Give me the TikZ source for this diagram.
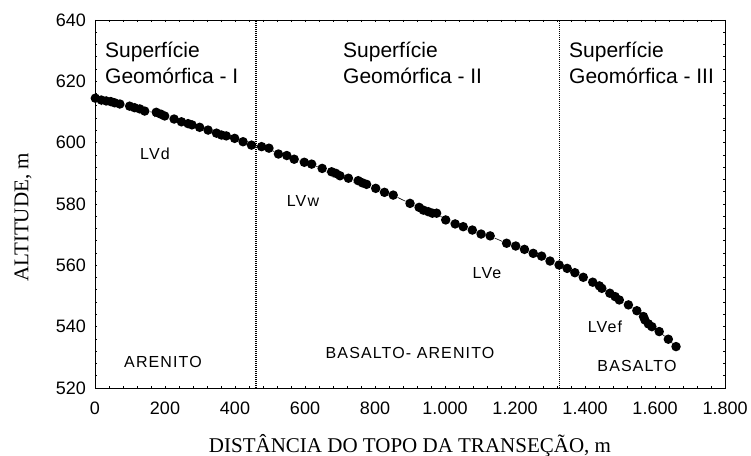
\documentclass[tikz,border=0pt]{standalone}
\usepackage{fontspec}
\setmainfont{Liberation Sans}
\newfontfamily\axisfont{Liberation Serif}
\newfontfamily\soilfont[LetterSpace=7]{Liberation Sans}
\usepackage{tikz}

\begin{document}
\begin{tikzpicture}[x=1pt,y=-1pt,
        frame/.style={draw=black,line width=0.9pt},
        divider/.style={draw=black,line width=1.1pt,dash pattern=on 1pt off 1pt},
        ticklabel/.style={inner sep=0pt,font=\fontsize{18}{18}\selectfont},
        surface/.style={inner sep=0pt,anchor=base west,font=\fontsize{21}{21}\selectfont},
        soil/.style={inner sep=0pt,anchor=base,font=\soilfont\fontsize{16}{16}\selectfont},
        axistitle/.style={inner sep=0pt,anchor=base,font=\axisfont\fontsize{21}{21}\selectfont}]
    \useasboundingbox (0,0) rectangle (751,455);

    % data frame: distance (m) against altitude (m)
    \begin{scope}[shift={(95,1982.67)},xscale=0.35,yscale=-3.0667]
        \coordinate (ll) at (0,520);
        \coordinate (ur) at (1800,640);
        \coordinate (g1b) at (460,520);
        \coordinate (g1t) at (460,640);
        \coordinate (g2b) at (1327,520);
        \coordinate (g2t) at (1327,640);

        \path[divider] (g1b) -- (g1t);
        \path[divider] (g2b) -- (g2t);
        \path[frame] (ll) rectangle (ur);

        \foreach \d in {0,40,...,1800} {
            \draw[line width=0.8pt] (\d,520) -- (\d,520.65);
            \draw[line width=0.8pt] (\d,640) -- (\d,639.35);
        }
        \foreach \a in {520,524,...,640} {
            \draw[line width=0.8pt] (0,\a) -- (5.7,\a);
            \draw[line width=0.8pt] (1800,\a) -- (1794.3,\a);
        }
        \foreach \d/\t in {0/0,200/200,400/400,600/600,800/800,1000/1.000,1200/1.200,1400/1.400,1600/1.600,1800/1.800}
            \node[ticklabel,anchor=north] (xl\d) at (\d,515.43) {\t};
        \foreach \a in {520,540,...,640}
            \node[ticklabel,anchor=east] (yl\a) at (-25.7,\a) {\a};

        \begin{scope}[every node/.style={fill=black,circle,inner sep=0pt,minimum size=9.5pt}]
            \node (p1) at (1,614.5) {};
            \node (p2) at (18,613.9) {};
            \node (p3) at (32,613.6) {};
            \node (p4) at (45,613.4) {};
            \node (p5) at (56,613.0) {};
            \node (p6) at (71,612.6) {};
            \node (p7) at (99,611.9) {};
            \node (p8) at (113,611.4) {};
            \node (p9) at (128,611.0) {};
            \node (p10) at (142,610.3) {};
            \node (p11) at (175,609.9) {};
            \node (p12) at (188,609.3) {};
            \node (p13) at (199,608.7) {};
            \node (p14) at (226,607.7) {};
            \node (p15) at (247,606.8) {};
            \node (p16) at (266,606.2) {};
            \node (p17) at (277,605.8) {};
            \node (p18) at (299,605.0) {};
            \node (p19) at (323,604.1) {};
            \node (p20) at (347,603.1) {};
            \node (p21) at (361,602.5) {};
            \node (p22) at (375,602.2) {};
            \node (p23) at (399,601.4) {};
            \node (p24) at (423,600.3) {};
            \node (p25) at (447,599.2) {};
            \node (p26) at (476,598.7) {};
            \node (p27) at (497,598.2) {};
            \node (p28) at (524,596.3) {};
            \node (p29) at (548,595.8) {};
            \node (p30) at (569,594.6) {};
            \node (p31) at (598,593.6) {};
            \node (p32) at (619,593.0) {};
            \node (p33) at (649,591.6) {};
            \node (p34) at (676,590.5) {};
            \node (p35) at (688,590.0) {};
            \node (p36) at (700,589.2) {};
            \node (p37) at (724,588.4) {};
            \node (p38) at (752,587.6) {};
            \node (p39) at (764,586.9) {};
            \node (p40) at (776,586.4) {};
            \node (p41) at (802,585.1) {};
            \node (p42) at (827,583.8) {};
            \node (p43) at (852,582.9) {};
            \node (p44) at (900,580.2) {};
            \node (p45) at (926,578.9) {};
            \node (p46) at (938,578.0) {};
            \node (p47) at (952,577.5) {};
            \node (p48) at (964,577.0) {};
            \node (p49) at (976,577.0) {};
            \node (p50) at (1002,574.8) {};
            \node (p51) at (1029,573.5) {};
            \node (p52) at (1052,572.6) {};
            \node (p53) at (1078,571.5) {};
            \node (p54) at (1103,570.2) {};
            \node (p55) at (1129,569.6) {};
            \node (p56) at (1176,567.2) {};
            \node (p57) at (1202,566.3) {};
            \node (p58) at (1227,565.2) {};
            \node (p59) at (1252,563.9) {};
            \node (p60) at (1276,563.0) {};
            \node (p61) at (1300,561.4) {};
            \node (p62) at (1326,560.1) {};
            \node (p63) at (1349,559.0) {};
            \node (p64) at (1371,557.6) {};
            \node (p65) at (1395,556.1) {};
            \node (p66) at (1422,554.5) {};
            \node (p67) at (1441,553.3) {};
            \node (p68) at (1448,552.5) {};
            \node (p69) at (1471,550.9) {};
            \node (p70) at (1486,549.8) {};
            \node (p71) at (1498,548.7) {};
            \node (p72) at (1524,547.1) {};
            \node (p73) at (1548,545.2) {};
            \node (p74) at (1567,543.3) {};
            \node (p75) at (1571,542.2) {};
            \node (p76) at (1581,540.9) {};
            \node (p77) at (1591,540.0) {};
            \node (p78) at (1612,538.4) {};
            \node (p79) at (1638,535.9) {};
            \node (p80) at (1660,533.5) {};
        \end{scope}
        \draw[line width=0.6pt] (p1) -- (p2) -- (p3) -- (p4) -- (p5) -- (p6) -- (p7) -- (p8) -- (p9) -- (p10)
            -- (p11) -- (p12) -- (p13) -- (p14) -- (p15) -- (p16) -- (p17) -- (p18) -- (p19) -- (p20)
            -- (p21) -- (p22) -- (p23) -- (p24) -- (p25) -- (p26) -- (p27) -- (p28) -- (p29) -- (p30)
            -- (p31) -- (p32) -- (p33) -- (p34) -- (p35) -- (p36) -- (p37) -- (p38) -- (p39) -- (p40)
            -- (p41) -- (p42) -- (p43) -- (p44) -- (p45) -- (p46) -- (p47) -- (p48) -- (p49) -- (p50)
            -- (p51) -- (p52) -- (p53) -- (p54) -- (p55) -- (p56) -- (p57) -- (p58) -- (p59) -- (p60)
            -- (p61) -- (p62) -- (p63) -- (p64) -- (p65) -- (p66) -- (p67) -- (p68) -- (p69) -- (p70)
            -- (p71) -- (p72) -- (p73) -- (p74) -- (p75) -- (p76) -- (p77) -- (p78) -- (p79) -- (p80);
    \end{scope}

    % surfaces and soils
    \node[surface] (s1a) at (105,57.3) {Superfície};
    \node[surface] (s1b) at (105,83.3) {Geomórfica - I};
    \node[surface] (s2a) at (343,57.3) {Superfície};
    \node[surface] (s2b) at (343,83.3) {Geomórfica - II};
    \node[surface] (s3a) at (569,57.3) {Superfície};
    \node[surface] (s3b) at (569,83.3) {Geomórfica - III};

    \node[soil] (lvd) at (155,159) {LVd};
    \node[soil] (lvw) at (303,206) {LVw};
    \node[soil] (lve) at (487,278) {LVe};
    \node[soil] (lvef) at (605,332) {LVef};
    \node[soil] (are) at (163,367) {ARENITO};
    \node[soil] (bas-are) at (410,358) {BASALTO- ARENITO};
    \node[soil] (bas) at (637,371) {BASALTO};

    \node[axistitle] (xtitle) at (410,452) {DISTÂNCIA DO TOPO DA TRANSEÇÃO, m};
    \node[axistitle,rotate=90] (ytitle) at (28.3,217.5) {ALTITUDE, m};
\end{tikzpicture}
\end{document}
